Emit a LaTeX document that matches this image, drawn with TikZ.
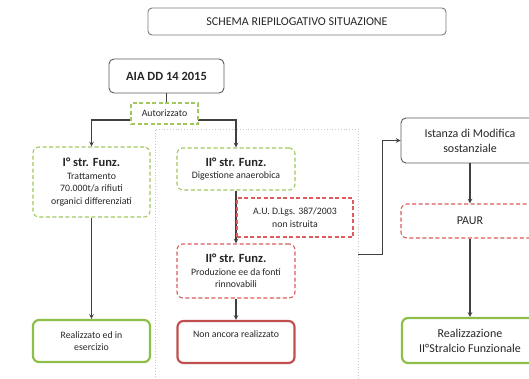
\documentclass[tikz,border=0pt]{standalone}
\usepackage{fontspec}
\setmainfont{Carlito}
\usetikzlibrary{arrows}
\definecolor{linegray}{RGB}{64,64,64}
\definecolor{boxgray}{RGB}{90,90,90}
\definecolor{okgreen}{RGB}{141,190,72}
\definecolor{dashgreen}{RGB}{160,200,95}
\definecolor{kored}{RGB}{192,80,77}
\definecolor{dashred}{RGB}{222,92,92}
\definecolor{zonegray}{RGB}{200,200,200}
\tikzstyle{plain} = [draw=boxgray, line width=0.9pt, rounded corners=5pt, align=center, inner sep=2pt]
\tikzstyle{greendash} = [draw=dashgreen, line width=1.1pt, dash pattern=on 4pt off 2.5pt, rounded corners=6pt, fill=white, align=center, inner sep=2pt]
\tikzstyle{reddash} = [draw=dashred, line width=1.1pt, dash pattern=on 4pt off 2.5pt, rounded corners=6pt, fill=white, align=center, inner sep=2pt]
\tikzstyle{greenbox} = [draw=okgreen, line width=2.2pt, rounded corners=6pt, align=center, inner sep=2pt]
\tikzstyle{redbox} = [draw=kored, line width=2.2pt, rounded corners=6pt, align=center, inner sep=2pt]
\tikzstyle{arrow} = [line width=1.1pt, draw=linegray, ->, >=stealth]
\tikzstyle{link} = [line width=1.1pt, draw=linegray]
\newcommand{\headfont}{\fontsize{12.5}{15}\selectfont\bfseries}
\newcommand{\bodyfont}{\fontsize{9.8}{12.6}\selectfont}
\newcommand{\bigfont}{\fontsize{12}{15}\selectfont}

\begin{document}
\begin{tikzpicture}[x=1pt, y=-1pt, font=\bodyfont, text=black!85]
  \useasboundingbox (0,0) rectangle (529,378);
  \clip (0,0) rectangle (529,378);

  % title
  \node[plain, draw=boxgray!80, rounded corners=4pt, minimum width=298pt, minimum height=27pt, font=\bigfont]
    (title) at (297,21.5) {SCHEMA RIEPILOGATIVO SITUAZIONE};

  % zone of the second stralcio
  \node[draw=zonegray, line width=0.8pt, dotted, minimum width=203pt, minimum height=251pt, inner sep=0pt]
    (zone) at (256.5,254.5) {};

  % main nodes
  \node[plain, minimum width=115pt, minimum height=34pt, font=\headfont] (aia) at (166.5,76) {AIA DD 14 2015};
  \node[greendash, minimum width=117pt, minimum height=70pt] (str1) at (91.5,182)
    {{\headfont I° str. Funz.}\\Trattamento\\70.000t/a rifiuti\\organici differenziati};
  \node[greenbox, minimum width=117pt, minimum height=42pt] (real1) at (91.5,341) {Realizzato ed in\\esercizio};
  \node[greendash, minimum width=118pt, minimum height=42pt] (str2a) at (236,169)
    {{\headfont II° str. Funz.}\\Digestione anaerobica};
  \node[reddash, minimum width=118pt, minimum height=54pt] (str2b) at (236,271)
    {{\headfont II° str. Funz.}\\Produzione ee da fonti\\rinnovabili};
  \node[redbox, minimum width=117pt, minimum height=42pt] (nonreal) at (236,342) {Non ancora realizzato\\ \strut};
  \node[plain, minimum width=138pt, minimum height=45pt, font=\bigfont] (istanza) at (470,140.5) {Istanza di Modifica\\sostanziale};
  \node[reddash, minimum width=138pt, minimum height=34pt, font=\bigfont] (paur) at (470,221) {PAUR};
  \node[greenbox, minimum width=136pt, minimum height=45pt, font=\bigfont] (real2) at (470,340.5) {Realizzazione\\II°Stralcio Funzionale};

  % connectors
  \coordinate (split) at (166.5,120);
  \draw[link] (aia.south) -- (split);
  \draw[arrow] (split) -| (str1.north);
  \draw[arrow] (split) -| (str2a.north);
  \draw[arrow] (str1.south) -- (real1.north);
  \draw[arrow] (str2a.south) -- (str2b.north);
  \draw[arrow] (str2b.south) -- (nonreal.north);
  \draw[arrow] (zone.east) -- ++(24,0) |- (istanza.west);
  \draw[arrow] (istanza.south) -- (paur.north);
  \draw[arrow] (paur.south) -- (real2.north);

  % labels on connectors
  \node[greendash, rounded corners=0pt, minimum width=67pt, minimum height=21pt] (autoriz) at (164.5,113.5) {Autorizzato};
  \node[reddash, rounded corners=0pt, minimum width=116pt, minimum height=39pt] (au) at (295,217.5)
    {A.U. D.Lgs. 387/2003\\non istruita};
\end{tikzpicture}
\end{document}
